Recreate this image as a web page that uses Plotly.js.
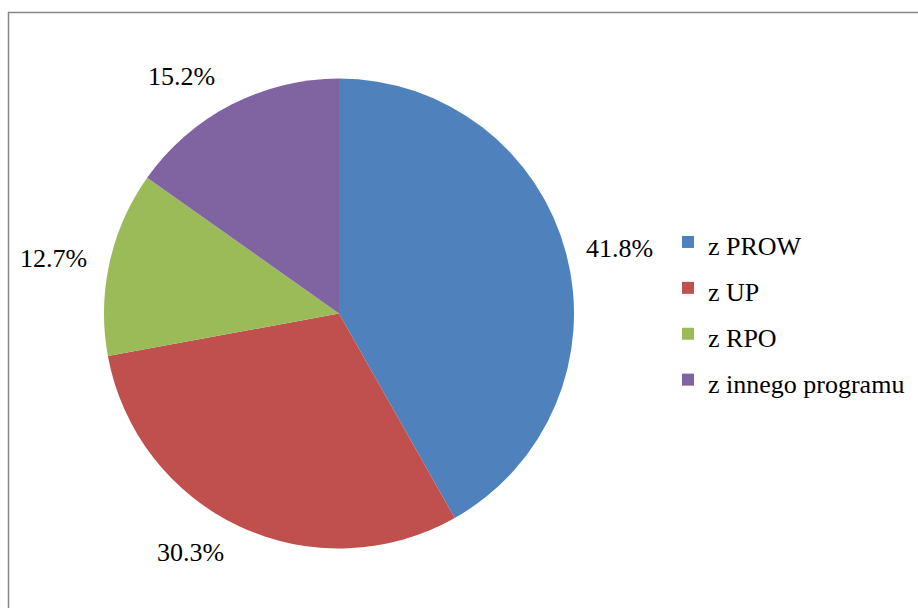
<!DOCTYPE html>
<html>
<head>
<meta charset="utf-8">
<script src="https://cdn.plot.ly/plotly-3.0.1.min.js"></script>
</head>
<body style="margin:0;padding:0;background:#ffffff">
<div id="chart"></div>
<script>
const categories = ["z PROW", "z UP", "z RPO", "z innego programu"];
const values = [41.8, 30.3, 12.7, 15.2];
const valueLabels = ["41.8%", "30.3%", "12.7%", "15.2%"];
const colors = ["#4F81BD", "#C0504D", "#9BBB59", "#8064A2"];

const FONT = "Liberation Serif";
const W = 918, H = 608;
const cx = 339, cy = 313.5, R = 235;
const domX = [(cx - R) / W, (cx + R) / W];
const domY = [1 - (cy + R) / H, 1 - (cy - R) / H];

const total = values.reduce((a, b) => a + b, 0);
const annotations = [];
let cum = 0;
const labelR = R + 22;
values.forEach((v, i) => {
  const mid = (cum + v / 2) / total * 2 * Math.PI;
  cum += v;
  const s = Math.sin(mid), c = Math.cos(mid);
  const px = cx + labelR * s;
  const py = cy - labelR * c;
  const ya = c > 0.5 ? "bottom" : (c < -0.5 ? "top" : "middle");
  annotations.push({
    xref: "paper", yref: "paper",
    x: px / W, y: 1 - py / H,
    xanchor: s > 0.3 ? "left" : (s < -0.3 ? "right" : "center"),
    yanchor: ya,
    yshift: ya === "top" ? 9 : (ya === "bottom" ? -7 : 0),
    xshift: ya === "middle" ? (s > 0 ? -3 : 0) : -5,
    text: valueLabels[i], showarrow: false, borderpad: 0,
    font: {family: FONT, size: 26, color: "#000000"}
  });
});

const trace = {
  type: "pie",
  labels: categories.map(t => '<span style="font-size:26px">' + t + '</span>'),
  values: values,
  sort: false,
  direction: "clockwise",
  rotation: 0,
  textinfo: "none",
  hoverinfo: "label+percent",
  marker: {colors: colors, line: {width: 0}},
  domain: {x: domX, y: domY}
};

const layout = {
  width: W, height: H,
  margin: {l: 0, r: 0, t: 0, b: 0},
  paper_bgcolor: "#ffffff",
  font: {family: FONT, size: 26, color: "#000000"},
  showlegend: true,
  legend: {
    x: 668 / W, y: 1 - 311 / H, xanchor: "left", yanchor: "middle",
    font: {family: FONT, size: 33, color: "#000000"},
    bgcolor: "rgba(0,0,0,0)"
  },
  annotations: annotations,
  shapes: [{
    type: "rect", xref: "paper", yref: "paper",
    x0: 8.5 / W, x1: 1.02, y0: -0.02, y1: 1 - 12.5 / H,
    line: {color: "#868686", width: 1.5}, fillcolor: "rgba(0,0,0,0)"
  }]
};

function draw() {
  return Plotly.newPlot("chart", [trace], layout, {displayModeBar: false, staticPlot: true});
}
draw();
if (document.fonts && document.fonts.load) {
  Promise.all([
    document.fonts.load("26px '" + FONT + "'", "z PROW 41.8%"),
    document.fonts.load("33px '" + FONT + "'", "z PROW")
  ]).then(draw).catch(function () {});
}
</script>
</body>
</html>
